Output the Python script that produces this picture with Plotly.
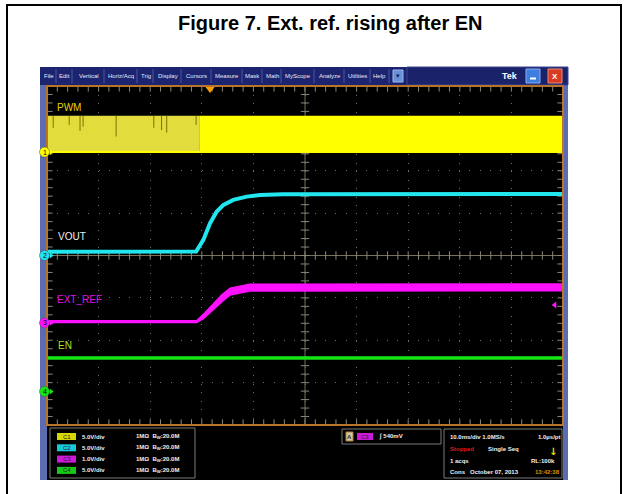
import plotly.graph_objects as go

W, H = 624, 494

# graticule box in screen pixels
GX0, GX1, GY0, GY1 = 47, 563, 86, 425

# ---- scope settings / data ----
MS_PER_DIV = 10.0
CH_SCALE = [5.0, 5.0, 1.0, 5.0]          # V/div
CH_POS = [2.44, 0.0, -1.59, -3.21]      # ground marker position, div
CH_COLOR = ["#ffff00", "#22e6ee", "#ff10ff", "#14e614"]
CH_NAMES = ["PWM", "VOUT", "EXT_REF", "EN"]

# PWM: switching band (too fast to resolve at 10 ms/div)
PWM_LOW_V = 0.0
PWM_HIGH_V = 4.3
PWM_SPLIT_MS = 29.5
PWM_GAP_T = [1.2, 4.3, 6.4, 7.0, 13.4, 20.7, 22.2, 23.2, 28.9]
PWM_GAP_V = [2.87, 3.2, 2.5, 3.0, 1.84, 2.87, 2.6, 2.3, 3.2]

# VOUT soft start
VOUT_T = [0, 28.9, 30.3, 31.6, 32.9, 34.2, 36.1, 38.7, 41.3, 45.7, 100]
VOUT_V = [0.45, 0.46, 1.84, 3.81, 5.18, 5.97, 6.56, 6.95, 7.15, 7.23, 7.25]

# EXT_REF ramp (band = noise envelope)
EXT_T = [0, 29.0, 30.3, 32.2, 33.9, 35.5, 39.3, 100]
EXT_V = [0.03, 0.03, 0.15, 0.38, 0.58, 0.74, 0.83, 0.84]
EXT_NOISE = [0.02, 0.02, 0.05, 0.07, 0.08, 0.08, 0.08, 0.08]

# EN already high
EN_T = [0, 100]
EN_V = [3.97, 3.97]

TRIG_T = 31.6
TRIG_MARK_V = 0.42
TRIG_LEVEL = "540mV"

MENU_ITEMS = ["File", "Edit", "Vertical", "Horiz/Acq", "Trig", "Display", "Cursors",
              "Measure", "Mask", "Math", "MyScope", "Analyze", "Utilities", "Help"]
MENU_SEP = [40, 56, 72, 104, 137, 153, 181, 211, 242, 262, 281, 314, 344, 370, 389]

ROW_BADGE = ["C1", "C2", "C3", "C4"]
ROW_SCALE = ["5.0V/div", "5.0V/div", "1.0V/div", "5.0V/div"]
ROW_BADGE_COLOR = ["#d8d800", "#18c8d8", "#d018d8", "#18c818"]


def to_div(v, ch):
    return CH_POS[ch] + v / CH_SCALE[ch]


def px(x):
    return x / W


def py(y):
    return 1 - y / H


def prect(x0, y0, x1, y1, fill=None, line_col=None, lw=0, layer="above"):
    d = dict(type="rect", xref="paper", yref="paper", x0=px(x0), x1=px(x1),
             y0=py(y1), y1=py(y0), layer=layer,
             line=dict(width=lw, color=line_col or "rgba(0,0,0,0)"))
    if fill:
        d["fillcolor"] = fill
    return d


def ptext(text, x, y, size=6, color="#f0f0f0", xa="left", family="Liberation Sans"):
    return dict(text=text, x=px(x), y=py(y), xref="paper", yref="paper", xanchor=xa,
                yanchor="middle", showarrow=False,
                font=dict(family=family, size=size, color=color))


fig = go.Figure()

# graticule ticks (center cross + edges)
minor_t = [i * MS_PER_DIV / 5 for i in range(0, 51)]
minor_d = [-4 + i * 0.2 for i in range(0, 41)]
tick_col = "#8a8676"
for yy in (0, 4, -4):
    fig.add_scatter(x=minor_t, y=[yy] * len(minor_t), mode="markers", hoverinfo="skip",
                    marker=dict(symbol="line-ns", size=6 if yy == 0 else 8,
                                line=dict(width=1, color=tick_col)), showlegend=False)
for xx in (50, 0, 100):
    fig.add_scatter(x=[xx] * len(minor_d), y=minor_d, mode="markers", hoverinfo="skip",
                    marker=dict(symbol="line-ew", size=6 if xx == 50 else 8,
                                line=dict(width=1, color=tick_col)), showlegend=False)

# PWM band
lo1 = to_div(PWM_LOW_V, 0)
hi1 = to_div(PWM_HIGH_V, 0)
for t0, t1, col in ((0, PWM_SPLIT_MS, "#e2dc3c"), (PWM_SPLIT_MS, 100, CH_COLOR[0])):
    fig.add_scatter(x=[t0, t1, t1, t0, t0], y=[lo1, lo1, hi1, hi1, lo1], mode="lines",
                    fill="toself", fillcolor=col, line=dict(width=0, color=col),
                    hoverinfo="skip", showlegend=False)
fig.add_scatter(x=[0, 100], y=[lo1, lo1], mode="lines", line=dict(color="#ffff00", width=2),
                hoverinfo="skip", showlegend=False)
gx, gy = [], []
for t, v in zip(PWM_GAP_T, PWM_GAP_V):
    gx += [t, t, None]
    gy += [hi1, to_div(v, 0), None]
fig.add_scatter(x=gx, y=gy, mode="lines", line=dict(color="#7a7400", width=1),
                hoverinfo="skip", showlegend=False)

# VOUT
fig.add_scatter(x=VOUT_T, y=[to_div(v, 1) for v in VOUT_V], mode="lines",
                line=dict(color=CH_COLOR[1], width=4), hoverinfo="skip", showlegend=False)

# EXT_REF band
up = [to_div(v + n, 2) for v, n in zip(EXT_V, EXT_NOISE)]
dn = [to_div(v - n, 2) for v, n in zip(EXT_V, EXT_NOISE)]
fig.add_scatter(x=EXT_T + EXT_T[::-1], y=up + dn[::-1], mode="lines", fill="toself",
                fillcolor=CH_COLOR[2], line=dict(color=CH_COLOR[2], width=1.5),
                hoverinfo="skip", showlegend=False)

# EN
fig.add_scatter(x=EN_T, y=[to_div(v, 3) for v in EN_V], mode="lines",
                line=dict(color=CH_COLOR[3], width=3.5), hoverinfo="skip", showlegend=False)

# small arrows next to the ground markers
fig.add_scatter(x=[0.8] * 4, y=CH_POS, mode="markers", cliponaxis=False,
                marker=dict(symbol="triangle-right", size=5, color=CH_COLOR),
                hoverinfo="skip", showlegend=False)

# trigger position and level markers
fig.add_scatter(x=[TRIG_T], y=[3.93], mode="markers", cliponaxis=False,
                marker=dict(symbol="triangle-down", size=8, color="#ff9a00"),
                hoverinfo="skip", showlegend=False)
tl = to_div(TRIG_MARK_V, 2)
fig.add_scatter(x=[98.4], y=[tl], mode="markers", cliponaxis=False,
                marker=dict(symbol="triangle-left", size=6, color=CH_COLOR[2]),
                hoverinfo="skip", showlegend=False)

shapes = []
# outer page border
shapes.append(prect(7, 5, 621, 510, line_col="black", lw=2, layer="below"))
# scope window frame (strips around the graticule)
shapes.append(prect(40, 67, 568, 85, fill="#1c2470", layer="below"))
shapes.append(prect(40, 85, GX0, 480, fill="#5b6db0", layer="below"))
shapes.append(prect(GX1, 85, 568, 480, fill="#5b6db0", layer="below"))
shapes.append(prect(GX0, GY1, GX1, 480, fill="black", layer="below"))
shapes.append(prect(407, 67, 568, 85, fill="#1a226a", line_col="#3a4590", lw=1))
for sx in MENU_SEP[1:]:
    shapes.append(dict(type="line", xref="paper", yref="paper", x0=px(sx), x1=px(sx),
                       y0=py(83), y1=py(69), line=dict(color="#4a55a0", width=1)))
# menu buttons
shapes.append(prect(393, 70, 403, 82, fill="#6a90d8", line_col="#9ab8f0", lw=1))
shapes.append(prect(526, 69, 540, 83, fill="#3d7ee0", line_col="#8ab0f0", lw=1))
shapes.append(prect(548, 69, 562, 83, fill="#d83a22", line_col="#f08a70", lw=1))
shapes.append(dict(type="line", xref="paper", yref="paper", x0=px(530), x1=px(536),
                   y0=py(78.5), y1=py(78.5), line=dict(color="white", width=2)))
# center cross
shapes.append(dict(type="line", xref="x", yref="y", x0=50, x1=50, y0=-4, y1=4,
                   line=dict(color="#77735f", width=1), layer="below"))
shapes.append(dict(type="line", xref="x", yref="y", x0=0, x1=100, y0=0, y1=0,
                   line=dict(color="#77735f", width=1), layer="below"))
# graticule frame
shapes.append(prect(GX0, GY0, GX1, GY1, line_col="#b8742a", lw=2))
# channel ground markers (circles on the left edge)
for i in range(4):
    shapes.append(dict(type="circle", xref="paper", yref="y", xsizemode="pixel",
                       ysizemode="pixel", xanchor=px(44.5), yanchor=CH_POS[i],
                       x0=-5, x1=5, y0=-5, y1=5, fillcolor=CH_COLOR[i],
                       line=dict(color="#505050", width=0.5)))
# info boxes
for x0, x1, y0, y1 in ((50, 195, 428, 478), (342, 441, 429, 444), (444, 562, 429, 478)):
    shapes.append(prect(x0, y0, x1, y1, fill="black", line_col="#7a7a7a", lw=1))
for i, c in enumerate(ROW_BADGE_COLOR):
    yc = 436.5 + i * 11.3
    shapes.append(prect(57, yc - 3.5, 76, yc + 3.5, fill=c))
shapes.append(prect(357, 433, 373, 440, fill=ROW_BADGE_COLOR[2]))
shapes.append(prect(346, 432, 353, 441, fill="#d0c8a0", line_col="#b08040", lw=1))

ann = []
ann.append(dict(text="<b>Figure 7. Ext. ref. rising after EN</b>", x=px(330), y=py(23),
                xref="paper", yref="paper", xanchor="center", yanchor="middle",
                showarrow=False, font=dict(family="Liberation Sans", size=20, color="black")))
for i, item in enumerate(MENU_ITEMS):
    ann.append(ptext(item, (MENU_SEP[i] + MENU_SEP[i + 1]) / 2 + 0.5, 76, size=6,
                     color="#e8e8f4", xa="center"))
ann.append(ptext("<b>Tek</b>", 510, 76, size=9, color="white", xa="center"))
ann.append(ptext("<b>X</b>", 555, 76.5, size=8, color="white", xa="center"))
ann.append(ptext("▾", 398, 76, size=7, color="#102060", xa="center", family="DejaVu Sans"))

# channel labels
lab_col = ["#e8d400", "#f0f0f0", "#e010e0", "#b0e020"]
lab_t = [1.5, 1.7, 1.5, 1.7]
lab_y = [3.5, 0.46, -1.05, -2.13]
for name, t, y, c in zip(CH_NAMES, lab_t, lab_y, lab_col):
    ann.append(dict(text=name, x=t, y=y, xref="x", yref="y", xanchor="left",
                    yanchor="middle", showarrow=False,
                    font=dict(family="Liberation Sans", size=10, color=c)))
# ground marker numbers
for i in range(4):
    ann.append(dict(text=str(i + 1), x=px(44.5), y=CH_POS[i], xref="paper", yref="y",
                    xanchor="center", yanchor="middle", showarrow=False,
                    font=dict(family="Liberation Sans", size=7, color="black")))

for i in range(4):
    yc = 436.5 + i * 11.3
    ann.append(ptext(ROW_BADGE[i], 66.5, yc, size=6, color="#202020", xa="center"))
    ann.append(ptext("<b>" + ROW_SCALE[i] + "</b>", 80, yc))
    ann.append(ptext("<b>1MΩ  B<sub>W</sub>:20.0M</b>", 134, yc))
ann.append(ptext("<b>A</b>", 349.5, 436.5, color="#202020", xa="center"))
ann.append(ptext("C3", 365, 436.5, color="#202020", xa="center"))
ann.append(ptext("<b>∫ " + TRIG_LEVEL + "</b>", 377, 436.5))
right_rows = [
    (448, 436.5, "10.0ms/div 1.0MS/s", "#f0f0f0"), (536, 436.5, "1.0µs/pt", "#f0f0f0"),
    (448, 448.5, "Stopped", "#e01818"), (486, 448.5, "Single Seq", "#f0f0f0"),
    (448, 460.5, "1 acqs", "#f0f0f0"), (529, 460.5, "RL:100k", "#f0f0f0"),
    (448, 472, "Cons   October 07, 2013", "#f0f0f0"), (533, 472, "13:42:38", "#e08a00"),
]
for x, y, t, c in right_rows:
    ann.append(ptext("<b>" + t + "</b>", x, y, color=c))
ann.append(ptext("<b>↓</b>", 553, 451, size=10, color="#f0e000", xa="center",
                 family="DejaVu Sans"))

fig.update_layout(
    width=W, height=H,
    margin=dict(l=0, r=0, t=0, b=0),
    paper_bgcolor="white",
    plot_bgcolor="black",
    shapes=shapes,
    annotations=ann,
    showlegend=False,
    xaxis=dict(domain=[px(GX0), px(GX1)], range=[0, 100], dtick=MS_PER_DIV, tick0=0,
               showticklabels=False, ticks="", zeroline=False, showgrid=True,
               gridcolor="#6e6e6e", gridwidth=1, griddash="1px,7.5px", fixedrange=True),
    yaxis=dict(domain=[py(GY1), py(GY0)], range=[-4, 4], dtick=1, tick0=0,
               showticklabels=False, ticks="", zeroline=False, showgrid=True,
               gridcolor="#6e6e6e", gridwidth=1, griddash="1px,9.3px", fixedrange=True),
)

fig.write_html("out.html", config={"displayModeBar": False},
               post_script="document.body.style.margin='0';")
